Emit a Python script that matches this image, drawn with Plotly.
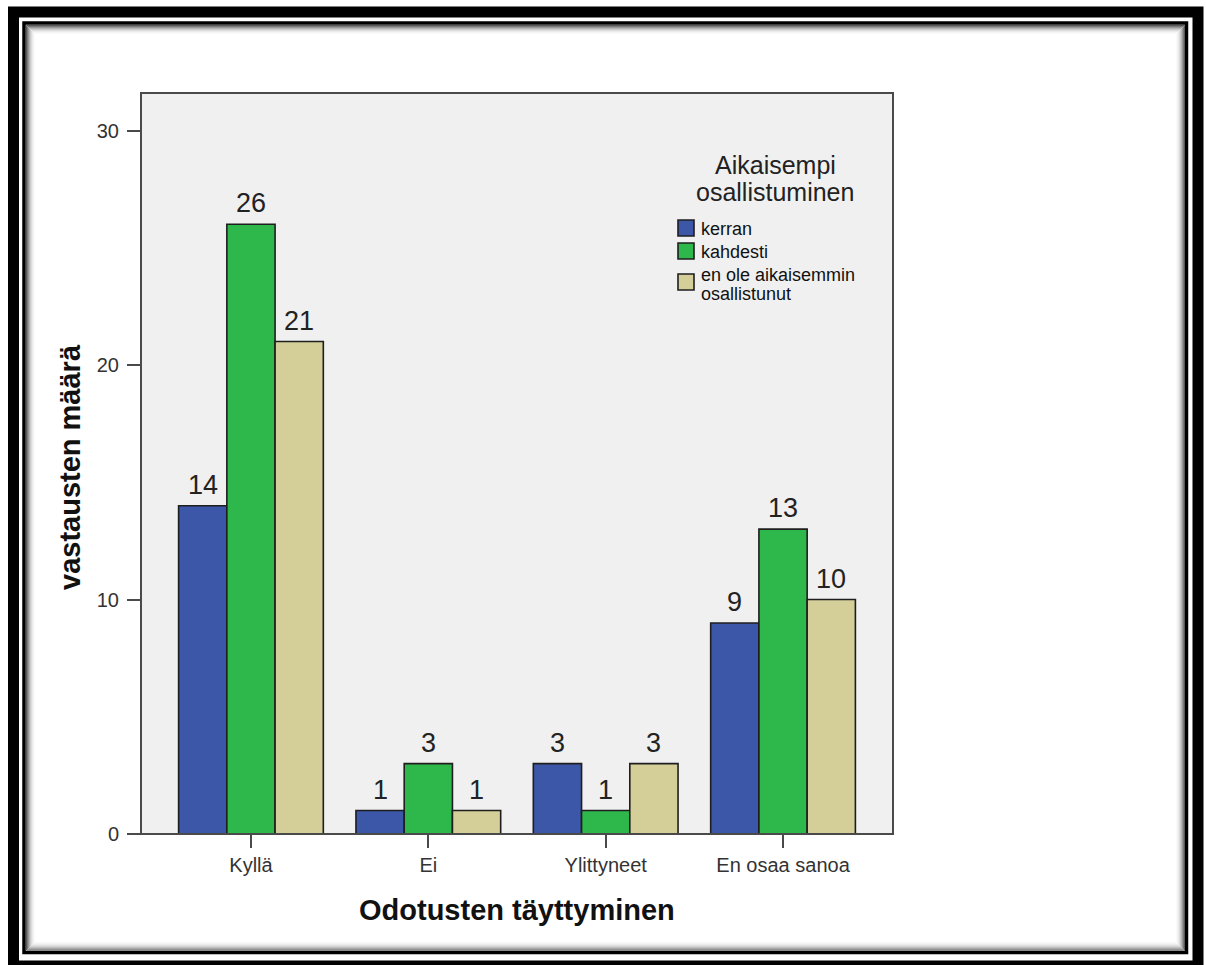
import plotly.graph_objects as go

# Survey counts: expectations met, split by earlier participation
categories = ["Kyllä", "Ei", "Ylittyneet", "En osaa sanoa"]
kerran = [14, 1, 3, 9]
kahdesti = [26, 3, 1, 13]
en_ole = [21, 1, 3, 10]

series_names = ["kerran", "kahdesti", "en ole aikaisemmin osallistunut"]
legend_lines = [["kerran"], ["kahdesti"], ["en ole aikaisemmin", "osallistunut"]]
colors = ["#3c56a8", "#2eb84b", "#d4cf99"]
y_ticks = [0, 10, 20, 30]

W, H = 1206, 965
L, R, T, B = 141, 893, 93, 834  # plot area in pixels
BARGAP = 0.184


def px(x):
    return (x - L) / (R - L)


def py(y):
    return (B - y) / (B - T)


fig = go.Figure()
all_series = [kerran, kahdesti, en_ole]
for name, vals, col in zip(series_names, all_series, colors):
    fig.add_trace(go.Bar(
        name=name, x=list(range(len(categories))), y=vals,
        marker=dict(color=col, line=dict(color="#1e1e1e", width=1.6)),
        showlegend=False, hoverinfo="y",
    ))

shapes = []
annotations = []

# value labels above each bar, placed at the bar's own value
slot = (1 - BARGAP) / len(all_series)
for k, vals in enumerate(all_series):
    off = (k - (len(all_series) - 1) / 2) * slot
    for i, v in enumerate(vals):
        annotations.append(dict(text=str(v), x=i + off, y=v, xref="x", yref="y",
                                showarrow=False, xanchor="center", yanchor="bottom", yshift=4,
                                font=dict(family="Liberation Sans, Arial", size=27, color="#222222")))

# picture frame: thick outer border, thin inner line and soft inner shadow
shapes.append(dict(type="rect", xref="paper", yref="paper",
                   x0=px(13.5), x1=px(1198), y0=py(12), y1=py(966),
                   line=dict(color="#000000", width=11), layer="above"))
shapes.append(dict(type="rect", xref="paper", yref="paper",
                   x0=px(24), x1=px(1186.5), y0=py(23), y1=py(952.5),
                   line=dict(color="#000000", width=3.5), layer="above"))
shadow = ["#5a5a5a", "#7a7a7a", "#989898", "#b4b4b4", "#cbcbcb", "#dddddd", "#eaeaea", "#f4f4f4", "#fafafa"]
for i, c in enumerate(shadow):
    shapes.append(dict(type="rect", xref="paper", yref="paper",
                       x0=px(26.5 + i), x1=px(1184.5 - i), y0=py(25.5 + i), y1=py(950 - i),
                       line=dict(color=c, width=1), layer="above"))

# plot frame
shapes.append(dict(type="rect", xref="paper", yref="paper", x0=0, x1=1, y0=0, y1=1,
                   line=dict(color="#4a4a4a", width=2), layer="above"))

# legend
legend_font = dict(family="Liberation Sans, Arial", size=18, color="#111111")
title_legend_font = dict(family="Liberation Sans, Arial", size=25, color="#222222")
annotations.append(dict(text="Aikaisempi", x=px(775), y=py(165), xref="paper", yref="paper",
                        showarrow=False, xanchor="center", yanchor="middle", font=title_legend_font))
annotations.append(dict(text="osallistuminen", x=px(775), y=py(192), xref="paper", yref="paper",
                        showarrow=False, xanchor="center", yanchor="middle", font=title_legend_font))
box_tops = [220, 243, 274]
text_rows = [[229], [252], [275, 294]]
for col, top, lines, rows in zip(colors, box_tops, legend_lines, text_rows):
    shapes.append(dict(type="rect", xref="paper", yref="paper",
                       x0=px(678), x1=px(694), y0=py(top + 16), y1=py(top),
                       fillcolor=col, line=dict(color="#1e1e1e", width=1.6), layer="above"))
    for line, ry in zip(lines, rows):
        annotations.append(dict(text=line, x=px(699), y=py(ry), xref="paper", yref="paper",
                                showarrow=False, xanchor="left", yanchor="middle", font=legend_font))

# axis titles
title_font = dict(family="Liberation Sans, Arial", size=29, color="#111111")
annotations.append(dict(text="<b>Odotusten täyttyminen</b>", x=0.5, y=py(910), xref="paper", yref="paper",
                        showarrow=False, xanchor="center", yanchor="middle", font=title_font))
annotations.append(dict(text="<b>vastausten määrä</b>", x=px(70), y=py(467), xref="paper", yref="paper",
                        showarrow=False, xanchor="center", yanchor="middle", textangle=-90, font=title_font))

tick_font = dict(family="Liberation Sans, Arial", size=20, color="#333333")
fig.update_layout(
    width=W, height=H,
    margin=dict(l=L, r=W - R, t=T, b=H - B, pad=0),
    paper_bgcolor="#ffffff", plot_bgcolor="#f0f0f0",
    barmode="group", bargap=BARGAP, bargroupgap=0,
    shapes=shapes, annotations=annotations,
    xaxis=dict(range=[-0.62, 3.62], tickvals=list(range(len(categories))), ticktext=categories,
               showgrid=False, zeroline=False, showline=False,
               ticks="outside", ticklen=13, tickwidth=2, tickcolor="#4a4a4a",
               tickfont=tick_font, fixedrange=True),
    yaxis=dict(range=[0, 31.6], tickvals=y_ticks, showgrid=False, zeroline=False, showline=False,
               ticks="outside", ticklen=13, tickwidth=2, tickcolor="#4a4a4a",
               tickfont=tick_font, ticklabelstandoff=4, fixedrange=True),
    showlegend=False,
)

fig.write_html("out.html", config={"displayModeBar": False})
